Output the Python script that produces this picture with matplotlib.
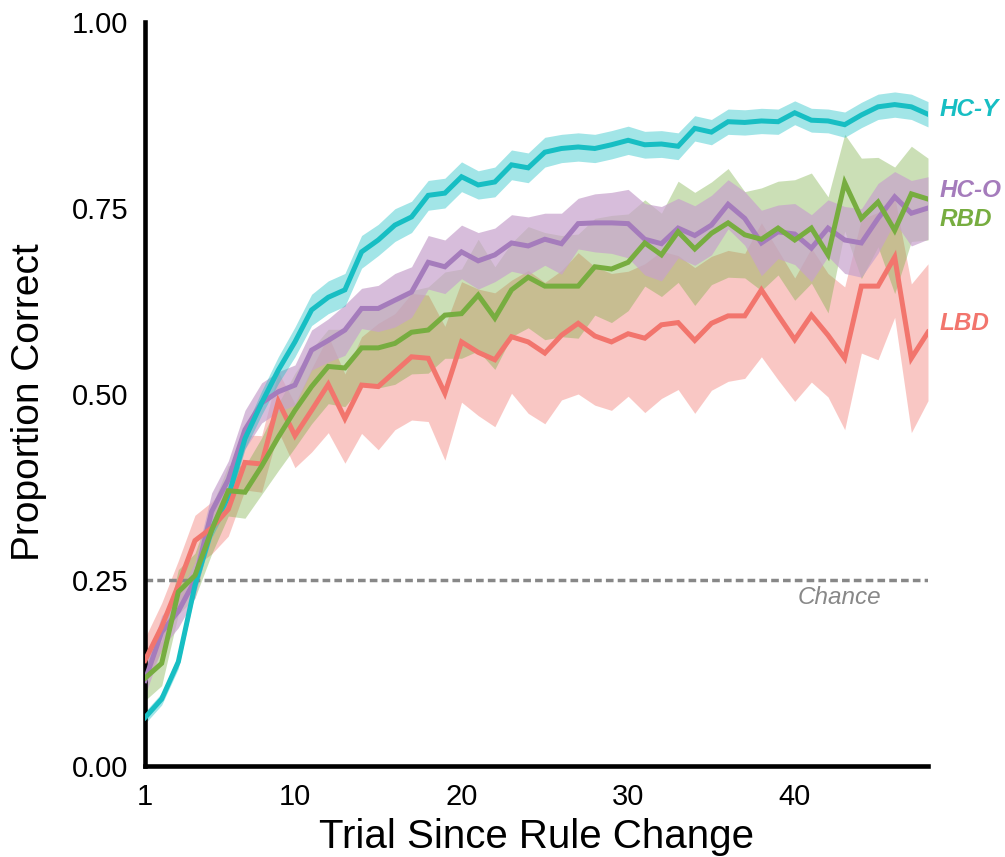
import numpy as np
import matplotlib
matplotlib.use("Agg")
import matplotlib.pyplot as plt

plt.rcParams["font.family"] = ["Liberation Sans", "DejaVu Sans"]

# trials since the rule switched
trials = list(range(1, 49))

# mean proportion correct per group
hc_y = [0.065, 0.090, 0.140, 0.243, 0.318, 0.362, 0.440, 0.488, 0.532, 0.570,
        0.613, 0.630, 0.640, 0.691, 0.707, 0.727, 0.738, 0.767, 0.770, 0.792,
        0.781, 0.785, 0.808, 0.804, 0.825, 0.830, 0.832, 0.830, 0.835, 0.841,
        0.835, 0.836, 0.833, 0.857, 0.852, 0.866, 0.865, 0.867, 0.866, 0.878,
        0.868, 0.867, 0.862, 0.875, 0.886, 0.889, 0.886, 0.876]
hc_o = [0.115, 0.180, 0.208, 0.250, 0.342, 0.385, 0.452, 0.488, 0.503, 0.512,
        0.559, 0.572, 0.586, 0.615, 0.615, 0.626, 0.637, 0.677, 0.671, 0.691,
        0.679, 0.687, 0.703, 0.699, 0.708, 0.702, 0.729, 0.730, 0.730, 0.729,
        0.708, 0.702, 0.723, 0.713, 0.727, 0.755, 0.736, 0.703, 0.718, 0.715,
        0.696, 0.723, 0.707, 0.703, 0.736, 0.765, 0.743, 0.750]
rbd = [0.118, 0.138, 0.234, 0.256, 0.317, 0.370, 0.368, 0.403, 0.442, 0.478,
       0.510, 0.537, 0.535, 0.562, 0.562, 0.568, 0.583, 0.586, 0.606, 0.608,
       0.633, 0.602, 0.640, 0.657, 0.645, 0.645, 0.645, 0.671, 0.668, 0.677,
       0.703, 0.687, 0.718, 0.695, 0.716, 0.730, 0.714, 0.708, 0.723, 0.707,
       0.723, 0.687, 0.784, 0.736, 0.758, 0.720, 0.769, 0.762]
lbd = [0.142, 0.187, 0.243, 0.303, 0.320, 0.345, 0.408, 0.406, 0.490, 0.444,
       0.478, 0.513, 0.467, 0.512, 0.510, 0.530, 0.550, 0.548, 0.501, 0.570,
       0.556, 0.546, 0.577, 0.570, 0.555, 0.579, 0.595, 0.578, 0.570, 0.581,
       0.575, 0.593, 0.596, 0.572, 0.595, 0.605, 0.605, 0.640, 0.606, 0.573,
       0.606, 0.579, 0.548, 0.645, 0.645, 0.684, 0.548, 0.583]

# standard error per trial
hc_y_se = [0.008, 0.008, 0.009, 0.010, 0.011, 0.012, 0.014, 0.016, 0.018, 0.020,
           0.021, 0.022, 0.022, 0.022, 0.021, 0.022, 0.021, 0.020, 0.020, 0.020,
           0.019, 0.020, 0.020, 0.020, 0.020, 0.019, 0.019, 0.019, 0.019, 0.019,
           0.018, 0.018, 0.018, 0.017, 0.017, 0.017, 0.017, 0.017, 0.017, 0.016,
           0.016, 0.016, 0.017, 0.017, 0.017, 0.017, 0.017, 0.017]
hc_o_se = [0.020, 0.022, 0.022, 0.024, 0.025, 0.025, 0.026, 0.027, 0.027, 0.027,
           0.027, 0.029, 0.034, 0.027, 0.031, 0.036, 0.034, 0.036, 0.036, 0.036,
           0.038, 0.036, 0.038, 0.039, 0.035, 0.041, 0.034, 0.039, 0.041, 0.046,
           0.048, 0.050, 0.040, 0.040, 0.040, 0.033, 0.036, 0.044, 0.036, 0.041,
           0.045, 0.038, 0.045, 0.046, 0.047, 0.034, 0.044, 0.042]
rbd_se = [0.030, 0.030, 0.030, 0.030, 0.032, 0.034, 0.035, 0.038, 0.045, 0.050,
          0.050, 0.050, 0.052, 0.052, 0.054, 0.055, 0.056, 0.058, 0.058, 0.060,
          0.075, 0.069, 0.063, 0.068, 0.072, 0.068, 0.070, 0.065, 0.072, 0.065,
          0.058, 0.056, 0.068, 0.076, 0.069, 0.073, 0.058, 0.069, 0.063, 0.081,
          0.074, 0.078, 0.065, 0.081, 0.060, 0.085, 0.064, 0.055]
lbd_se = [0.030, 0.032, 0.033, 0.034, 0.035, 0.036, 0.037, 0.038, 0.040, 0.043,
          0.056, 0.065, 0.060, 0.065, 0.085, 0.078, 0.085, 0.085, 0.090, 0.081,
          0.085, 0.090, 0.076, 0.096, 0.095, 0.087, 0.095, 0.093, 0.092, 0.084,
          0.100, 0.099, 0.090, 0.098, 0.090, 0.088, 0.084, 0.090, 0.087, 0.083,
          0.090, 0.083, 0.096, 0.090, 0.099, 0.081, 0.100, 0.092]

# ribbons stack bottom -> top
groups = ["LBD", "RBD", "HC-O", "HC-Y"]
means = {"HC-Y": hc_y, "HC-O": hc_o, "RBD": rbd, "LBD": lbd}
errors = {"HC-Y": hc_y_se, "HC-O": hc_o_se, "RBD": rbd_se, "LBD": lbd_se}
colors = {"HC-Y": "#17BEC3", "HC-O": "#A57CBC", "RBD": "#77AD40", "LBD": "#F2756D"}
band_colors = {"HC-Y": "#17BEC3", "HC-O": "#C7A2CC", "RBD": "#77AD40", "LBD": "#F2756D"}
band_alpha = {"HC-Y": 0.4, "HC-O": 0.7, "RBD": 0.38, "LBD": 0.4}
label_y = {"HC-Y": 0.882, "HC-O": 0.774, "RBD": 0.734, "LBD": 0.595}

chance = 0.25

fig = plt.figure(figsize=(10.05, 8.57), dpi=100)
ax = fig.add_axes([145 / 1005, 1 - 766 / 857, 783 / 1005, 744 / 857])

x = np.array(trials)
for g in groups:
    m = np.array(means[g])
    se = np.array(errors[g])
    ax.fill_between(x, m - se, m + se, color=band_colors[g],
                    alpha=band_alpha[g], linewidth=0, zorder=1)

ax.plot([trials[0], trials[-1]], [chance, chance], color="#888888", lw=2.5,
        linestyle=(0, (2.2, 1.2)), zorder=2)
ax.text(42.7, 0.226, "Chance", color="#888888", fontsize=17.5, style="italic",
        ha="center", va="center")

for g in ["HC-O", "HC-Y", "LBD", "RBD"]:
    ax.plot(x, means[g], color=colors[g], lw=3.6, zorder=3,
            solid_joinstyle="miter")
    ax.text(48.7, label_y[g], g, color=colors[g], fontsize=17.5,
            fontweight="bold", style="italic", ha="left", va="center",
            clip_on=False)

ax.set_xlim(1, 48)
ax.set_ylim(0, 1)
ax.set_xticks([1, 10, 20, 30, 40])
ax.set_yticks([0, 0.25, 0.5, 0.75, 1.0])
ax.set_yticklabels(["0.00", "0.25", "0.50", "0.75", "1.00"])
ax.tick_params(length=0, labelsize=21, pad=12)

ax.set_xlabel("Trial Since Rule Change", fontsize=29, labelpad=5)
ax.set_ylabel("Proportion Correct", fontsize=28)
ax.yaxis.set_label_coords(-0.125, 0.489)

for side in ["top", "right"]:
    ax.spines[side].set_visible(False)
for side in ["left", "bottom"]:
    ax.spines[side].set_linewidth(3.3)
    ax.spines[side].set_color("black")

fig.savefig("out.png", dpi=100)
